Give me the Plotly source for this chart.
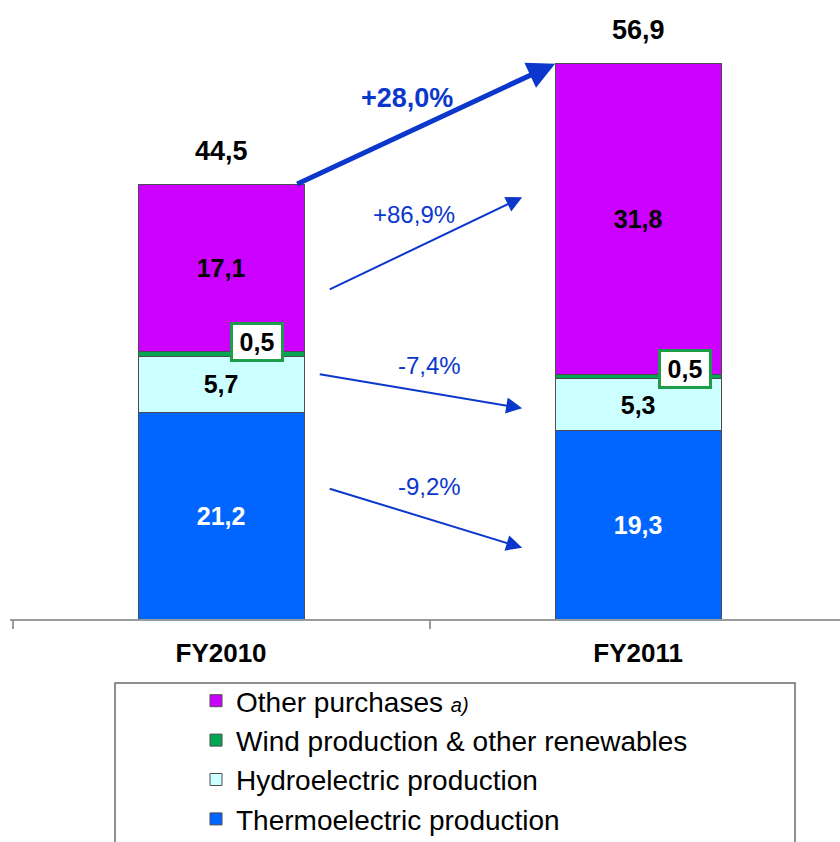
import plotly.graph_objects as go

# ---- data -------------------------------------------------------------
years = ["FY2010", "FY2011"]
thermo = [21.2, 19.3]
hydro = [5.7, 5.3]
wind = [0.5, 0.5]
other = [17.1, 31.8]
totals = [44.5, 56.9]
change_total = "+28,0%"
change_other = "+86,9%"
change_hydro = "-7,4%"
change_thermo = "-9,2%"

series_names = [
    "Thermoelectric production",
    "Hydroelectric production",
    "Wind production & other renewables",
    "Other purchases <i><span style='font-size:20px'>a)</span></i>",
]
series_colors = ["#0066FF", "#CCFFFF", "#00A651", "#CC00FF"]
legend_ranks = [4, 3, 2, 1]

FONT = "Arial, Liberation Sans, sans-serif"
ARROW_BLUE = "#0B37CC"


def fmt(v):
    return f"{v:.1f}".replace(".", ",")


xpos = [0, 1]
BAR_W = 0.398
HALF = BAR_W / 2

fig = go.Figure()
values = [thermo, hydro, wind, other]
text_colors = ["white", "black", "black", "black"]
for name, vals, col, tcol, rank in zip(series_names, values, series_colors,
                                       text_colors, legend_ranks):
    show_text = name != series_names[2]
    fig.add_trace(go.Bar(
        x=xpos, y=vals, name=name, width=BAR_W,
        marker=dict(color=col, line=dict(color="#4d4d4d", width=1)),
        text=[fmt(v) for v in vals] if show_text else None,
        textposition="inside", insidetextanchor="middle",
        textfont=dict(family=FONT, size=25, color=tcol, weight="bold"),
        constraintext="none",
        legendrank=rank,
        hoverinfo="skip",
    ))

annotations = []

# totals above each bar
for x, t in zip(xpos, totals):
    annotations.append(dict(
        x=x, y=t, xref="x", yref="y", text=fmt(t), showarrow=False,
        yanchor="bottom", yshift=17,
        font=dict(family=FONT, size=27, color="black", weight="bold"),
    ))

# boxed labels for the thin wind segment
wind_mid = [th + hy + w / 2 for th, hy, w in zip(thermo, hydro, wind)]
for x, ym, w, dx, dy in zip(xpos, wind_mid, wind, [0.086, 0.113], [12, 7]):
    annotations.append(dict(
        x=x + dx, y=ym, xref="x", yref="y", text=fmt(w), showarrow=False,
        yanchor="middle", yshift=dy, width=46, height=32,
        font=dict(family=FONT, size=25, color="black", weight="bold"),
        bgcolor="white", bordercolor="#1E9E4A", borderwidth=3, borderpad=1,
    ))

# total growth arrow, from the top of the first bar to the top of the second
annotations.append(dict(
    x=xpos[1] - HALF, y=totals[1], ax=xpos[0] + HALF - 0.02, ay=totals[0],
    xref="x", yref="y", axref="x", ayref="y", text="",
    showarrow=True, arrowhead=2, arrowsize=1.1, arrowwidth=5,
    arrowcolor=ARROW_BLUE, standoff=0,
))
annotations.append(dict(
    x=0.447, y=53.4, xref="x", yref="y", text=change_total, showarrow=False,
    font=dict(family=FONT, size=27, color=ARROW_BLUE, weight="bold"),
))

# per-component change arrows: (tail x, tail y, head x, head y, label x, label y, text)
thin_arrows = [
    (0.257, 33.7, 0.722, 43.2, 0.462, 41.4, change_other),
    (0.233, 25.1, 0.722, 21.6, 0.50, 26.0, change_hydro),
    (0.257, 13.4, 0.722, 7.3, 0.50, 13.6, change_thermo),
]
for tx, ty, hx, hy, lx, ly, lab in thin_arrows:
    annotations.append(dict(
        x=hx, y=hy, ax=tx, ay=ty, xref="x", yref="y", axref="x", ayref="y",
        text="", showarrow=True, arrowhead=2, arrowsize=1.6, arrowwidth=2,
        arrowcolor=ARROW_BLUE, standoff=0,
    ))
    annotations.append(dict(
        x=lx, y=ly, xref="x", yref="y", text=lab, showarrow=False,
        font=dict(family=FONT, size=24, color=ARROW_BLUE),
    ))

W, H = 840, 842
ML, MR, MT, MB = 10, 0, 0, 223


def px_to_paper_x(px):
    return (px - ML) / (W - ML - MR)


def px_to_paper_y(py):
    return (H - MB - py) / (H - MT - MB)


shapes = [
    # legend frame
    dict(type="rect", xref="paper", yref="paper",
         x0=px_to_paper_x(115), x1=px_to_paper_x(795),
         y0=px_to_paper_y(683), y1=px_to_paper_y(850),
         line=dict(color="#6b6b6b", width=1.5), fillcolor="rgba(0,0,0,0)"),
]

fig.update_layout(
    width=W, height=H,
    margin=dict(l=ML, r=MR, t=MT, b=MB, autoexpand=False),
    barmode="stack",
    plot_bgcolor="white", paper_bgcolor="white",
    font=dict(family=FONT),
    xaxis=dict(
        range=[-0.506, 1.484], tickvals=xpos, ticktext=years,
        ticks="", showgrid=False, zeroline=False,
        showline=True, linecolor="#9a9a9a", linewidth=1.5,
        tickfont=dict(family=FONT, size=26, color="black", weight="bold"),
        ticklabelstandoff=10,
        minor=dict(ticks="outside", tick0=-0.5, dtick=1, ticklen=8,
                   tickcolor="#9a9a9a", tickwidth=1.5, showgrid=False),
        fixedrange=True,
    ),
    yaxis=dict(range=[0, 63.42], visible=False, fixedrange=True),
    showlegend=True,
    legend=dict(
        x=px_to_paper_x(196), y=px_to_paper_y(676), xanchor="left", yanchor="top",
        traceorder="normal",
        font=dict(family=FONT, size=28, color="black"),
        bgcolor="rgba(0,0,0,0)", borderwidth=0,
        itemclick=False, itemdoubleclick=False,
    ),
    annotations=annotations,
    shapes=shapes,
)

fig.write_html("out.html")
